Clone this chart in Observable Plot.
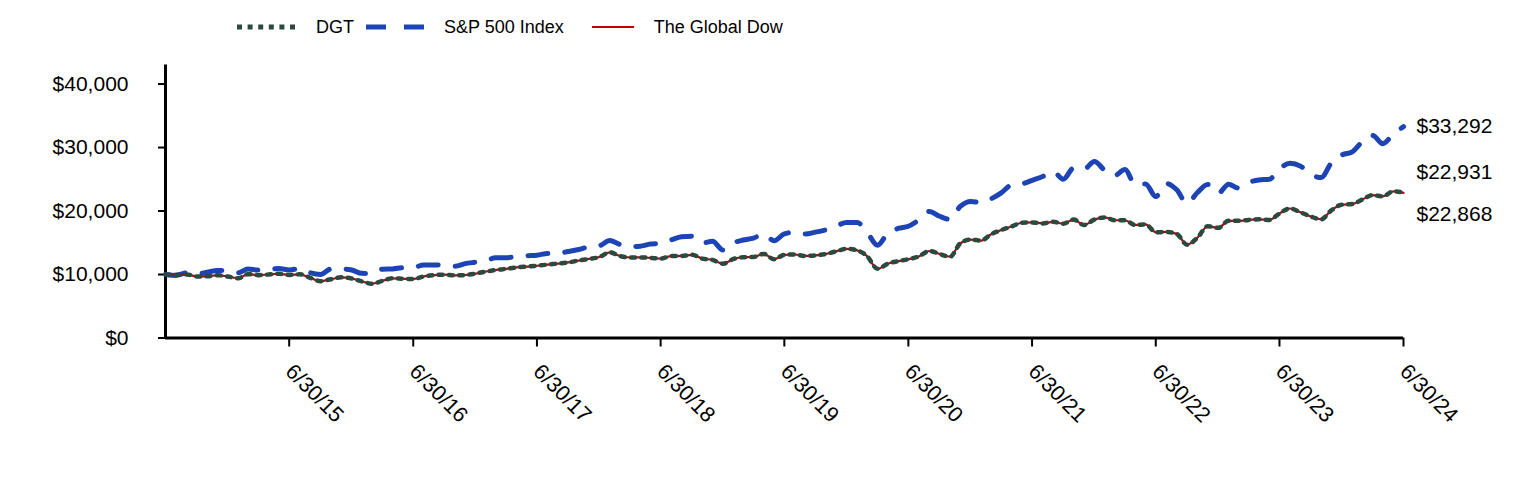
<!DOCTYPE html>
<html>
<head>
<meta charset="utf-8">
<script src="https://cdn.jsdelivr.net/npm/d3@7"></script>
<script src="https://cdn.jsdelivr.net/npm/@observablehq/plot@0.6"></script>
<style>
  body { margin: 0; background: #fff; font-family: "Liberation Sans", Arial, sans-serif; }
  #legend { height: 50px; box-sizing: border-box; padding-top: 4px; display: flex; align-items: center; padding-left: 237px; font-size: 18px; color: #000; }
  #legend .item { display: flex; align-items: center; }
  #legend svg { display: block; }
</style>
</head>
<body>
<div id="legend"></div>
<div id="chart"></div>
<script>
// ---- data (growth of $10,000, month-end values 6/30/14 .. 6/30/24) ----
const seriesNames = ["DGT", "S&P 500 Index", "The Global Dow"];
const seriesColors = ["#2b4a3f", "#1c44b5", "#c00000"];

const dgt = [
  10000, 9950, 10020, 9700, 9720, 9900, 9680, 9420, 10050, 9900, 10000, 10120,
  9930, 10030, 9480, 8950, 9250, 9550, 9380, 8900, 8550, 9000, 9400, 9330,
  9290, 9700, 9900, 9970, 9870, 9920, 10150, 10470, 10700, 10890, 11110, 11250,
  11380, 11560, 11720, 11900, 12200, 12450, 12750, 13500, 12950, 12680, 12700, 12620,
  12500, 12900, 12920, 13100, 12500, 12300, 11700, 12450, 12720, 12760, 13250, 12400,
  13100, 13150, 12920, 13000, 13250, 13650, 14050, 13800, 12900, 10900, 11700, 12100,
  12400, 12850, 13700, 13250, 12800, 14900, 15500, 15350, 16300, 17000, 17550, 18150,
  18200, 18050, 18300, 18000, 18650, 17800, 18650, 19000, 18550, 18550, 17800, 17900,
  16650, 16700, 16400, 14700, 15800, 17600, 17350, 18450, 18450, 18600, 18700, 18600,
  19600, 20400, 19800, 19150, 18700, 20100, 21000, 21100, 21800, 22500, 22300, 23100,
  22931
];

const sp500 = [
  10000, 9864, 10251, 10107, 10357, 10626, 10598, 10284, 10865, 10691, 10798, 10928,
  10714, 10942, 10273, 10016, 10863, 10885, 10710, 10182, 10155, 10841, 10886, 11069,
  11096, 11508, 11511, 11514, 11307, 11711, 11942, 12174, 12645, 12659, 12793, 12960,
  13042, 13314, 13341, 13619, 13942, 14355, 14518, 15356, 14780, 14404, 14464, 14799,
  14892, 15452, 15943, 16035, 14945, 15235, 13857, 14969, 15437, 15737, 16380, 15325,
  16406, 16646, 16369, 16675, 17041, 17648, 18180, 18177, 16673, 14608, 16486, 17258,
  17601, 18598, 19931, 19178, 18675, 20714, 21515, 21307, 21896, 22858, 24092, 24260,
  24836, 25439, 26215, 25006, 26775, 26591, 27792, 26370, 25581, 26535, 24237, 24274,
  22269, 24335, 23337, 21189, 22916, 24183, 22791, 24234, 23637, 24501, 24897, 24995,
  26652, 27524, 27077, 25796, 25266, 27561, 28823, 29324, 30887, 31892, 30611, 32127,
  33292
];

const globalDow = [
  10000, 9950, 10020, 9700, 9720, 9900, 9680, 9420, 10050, 9900, 10000, 10120,
  9930, 10030, 9480, 8950, 9250, 9550, 9380, 8900, 8550, 9000, 9400, 9330,
  9290, 9700, 9900, 9970, 9870, 9920, 10150, 10470, 10700, 10890, 11110, 11250,
  11380, 11560, 11720, 11900, 12200, 12450, 12750, 13500, 12950, 12680, 12700, 12620,
  12500, 12900, 12920, 13100, 12500, 12300, 11700, 12450, 12720, 12760, 13250, 12400,
  13100, 13150, 12920, 13000, 13250, 13650, 14050, 13800, 12900, 10870, 11700, 12100,
  12400, 12850, 13700, 13250, 12800, 14900, 15500, 15350, 16300, 17000, 17550, 18150,
  18200, 18050, 18300, 18000, 18650, 17800, 18650, 19000, 18550, 18550, 17800, 17900,
  16650, 16700, 16400, 14700, 15800, 17600, 17350, 18450, 18450, 18600, 18700, 18600,
  19600, 20400, 19800, 19150, 18700, 20100, 21000, 21100, 21800, 22500, 22300, 23080,
  22868
];

const endLabels = ["$22,931", "$33,292", "$22,868"];
const xTickLabels = ["6/30/15", "6/30/16", "6/30/17", "6/30/18", "6/30/19", "6/30/20", "6/30/21", "6/30/22", "6/30/23", "6/30/24"];
const yTickValues = [0, 10000, 20000, 30000, 40000];
const yTickLabels = ["$0", "$10,000", "$20,000", "$30,000", "$40,000"];

// month-end dates
const dates = dgt.map((_, i) => d3.utcDay.offset(d3.utcMonth.offset(new Date(Date.UTC(2014, 6, 1)), i), -1));
const xTickDates = dates.filter((d, i) => i > 0 && i % 12 === 0);
const last = dates.length - 1;

const rows = dates.map((d, i) => ({date: d, dgt: dgt[i], sp: sp500[i], gd: globalDow[i]}));

// ---- legend ----
const legend = document.getElementById("legend");
const swatches = [
  {w: 58, attrs: `stroke="${seriesColors[0]}" stroke-width="5" stroke-dasharray="5,5.6"`, gap: 21, after: 12},
  {w: 58, attrs: `stroke="${seriesColors[1]}" stroke-width="5" stroke-dasharray="20,18"`, gap: 20, after: 28},
  {w: 42, attrs: `stroke="${seriesColors[2]}" stroke-width="2"`, gap: 20, after: 0}
];
seriesNames.forEach((name, i) => {
  const s = swatches[i];
  const item = document.createElement("div");
  item.className = "item";
  item.style.marginRight = s.after + "px";
  item.innerHTML = `<svg width="${s.w}" height="12"><line x1="0" x2="${s.w}" y1="6" y2="6" ${s.attrs}/></svg><span style="margin-left:${s.gap}px">${name.replace("&", "&amp;")}</span>`;
  legend.appendChild(item);
});

// ---- chart ----
const font = "Liberation Sans, Arial, sans-serif";
const chart = Plot.plot({
  width: 1524,
  height: 430,
  marginLeft: 165,
  marginRight: 121,
  marginTop: 14.5,
  marginBottom: 142.5,
  style: {fontFamily: font, fontSize: "20px", color: "#000", background: "#fff", overflow: "visible"},
  x: {type: "utc", domain: [dates[0], dates[last]]},
  y: {domain: [0, 43000]},
  marks: [
    Plot.axisY({
      ticks: yTickValues,
      tickFormat: d => yTickLabels[yTickValues.indexOf(d)],
      tickSize: 7, tickPadding: 30, strokeWidth: 2, fontSize: 21, label: null
    }),
    Plot.axisX({
      ticks: xTickDates,
      tickFormat: d => xTickLabels[xTickDates.findIndex(t => +t === +d)],
      tickSize: 9, tickPadding: 21, tickRotate: 45, strokeWidth: 2, fontSize: 21.5, label: null
    }),
    Plot.ruleY([0], {strokeWidth: 3, stroke: "#000"}),
    Plot.ruleX([dates[0]], {y1: 0, y2: 43000, strokeWidth: 3, stroke: "#000"}),
    Plot.line(rows, {x: "date", y: "sp", stroke: seriesColors[1], strokeWidth: 5, strokeDasharray: "20,17", curve: "monotone-x"}),
    Plot.line(rows, {x: "date", y: "gd", stroke: seriesColors[2], strokeWidth: 2.2, curve: "monotone-x"}),
    Plot.line(rows, {x: "date", y: "dgt", stroke: seriesColors[0], strokeWidth: 4.5, strokeDasharray: "4,6.3", curve: "monotone-x"}),
    Plot.text([rows[last]], {x: "date", y: "sp", text: () => endLabels[1], textAnchor: "start", dx: 13, fontSize: 21, fill: "#000"}),
    Plot.text([rows[last]], {x: "date", y: "dgt", text: () => endLabels[0], textAnchor: "start", dx: 13, dy: -20, fontSize: 21, fill: "#000"}),
    Plot.text([rows[last]], {x: "date", y: "gd", text: () => endLabels[2], textAnchor: "start", dx: 13, dy: 21, fontSize: 21, fill: "#000"})
  ]
});
document.getElementById("chart").appendChild(chart);
</script>
</body>
</html>
